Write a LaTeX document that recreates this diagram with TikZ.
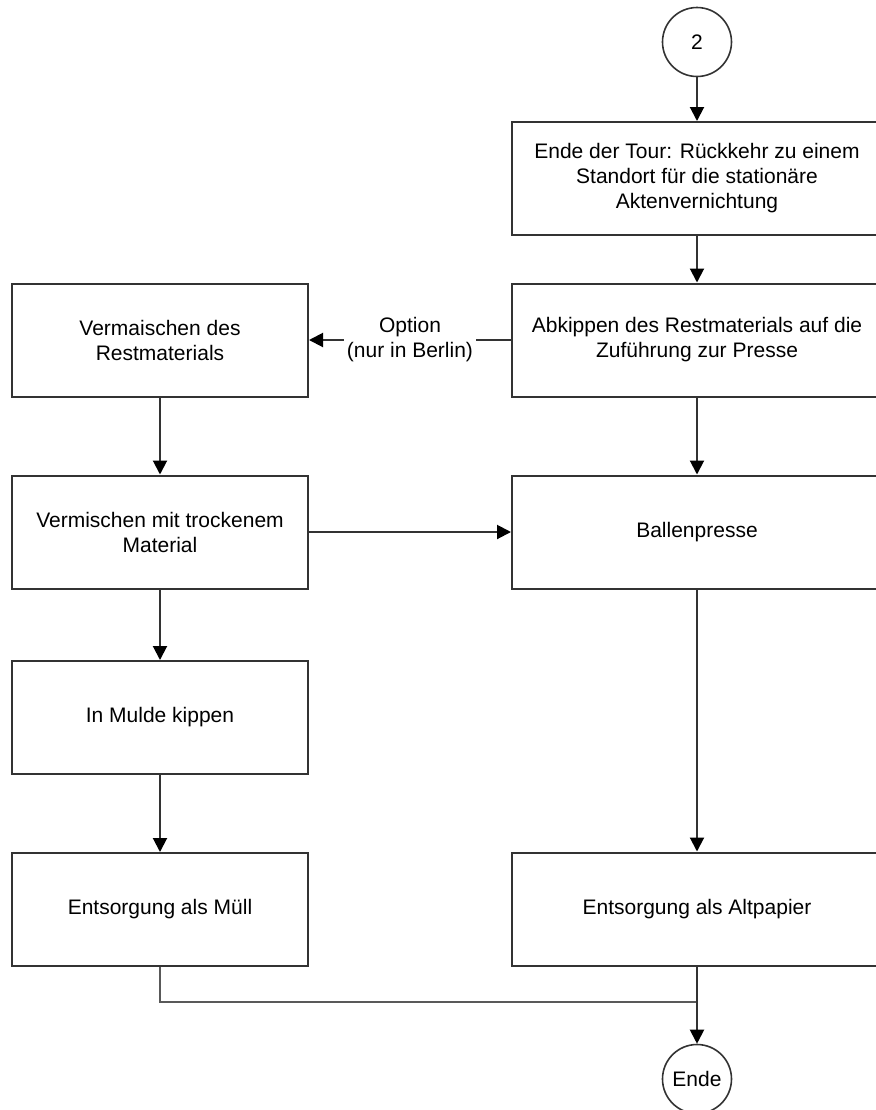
\documentclass[tikz,border=0pt]{standalone}
\usepackage{fontspec}
\setmainfont{Liberation Sans}
\usetikzlibrary{arrows.meta}
\tikzset{
  stepbox/.style={draw=black!80, line width=1pt, fill=white, minimum height=56.5pt, align=center, font=\fontsize{10.5}{12.5}\selectfont},
  narrow/.style={minimum width=148pt},
  wide/.style={minimum width=185pt},
  term/.style={circle, draw=black!80, line width=0.8pt, minimum size=34.5pt, inner sep=0pt, font=\fontsize{10.5}{12.5}\selectfont},
  flow/.style={draw=black!80, line width=1pt, -{Triangle[width=7pt,length=7pt,fill=black,color=black]}},
  link/.style={draw=black!65, line width=1pt},
  optlabel/.style={fill=white, align=center, inner sep=1.5pt, font=\fontsize{10.5}{12.5}\selectfont},
}

\begin{document}
\begin{tikzpicture}[x=0.5pt, y=-0.5pt]
\useasboundingbox (0,0) rectangle (876,1110);
% right column
\node[term] (start) at (697,42) {2};
\node[stepbox, wide] (tour) at (697,178.5) {Ende der Tour: R\"uckkehr zu einem\\Standort f\"ur die station\"are\\Aktenvernichtung};
\node[stepbox, wide] (abkippen) at (697,340) {Abkippen des Restmaterials auf die\\Zuf\"uhrung zur Presse};
\node[stepbox, wide] (ballen) at (697,532) {Ballenpresse};
\node[stepbox, wide] (altpapier) at (697,909) {Entsorgung als Altpapier};
\node[term] (ende) at (697,1079) {Ende};
% left column
\node[stepbox, narrow] (vermaischen) at (160,340) {Vermaischen des\\Restmaterials};
\node[stepbox, narrow] (vermischen) at (160,532) {Vermischen mit trockenem\\Material};
\node[stepbox, narrow] (mulde) at (160,717.5) {In Mulde kippen};
\node[stepbox, narrow] (muell) at (160,909.5) {Entsorgung als M\"ull};
\coordinate (join) at (697,1002);
% connectors
\draw[flow] (start) -- (tour);
\draw[flow] (tour) -- (abkippen);
\draw[flow] (abkippen) -- node[optlabel] {Option\\(nur in Berlin)} (vermaischen);
\draw[flow] (abkippen) -- (ballen);
\draw[flow] (ballen) -- (altpapier);
\draw[flow] (vermaischen) -- (vermischen);
\draw[flow] (vermischen) -- (ballen);
\draw[flow] (vermischen) -- (mulde);
\draw[flow] (mulde) -- (muell);
\draw[link] (muell.south) |- (join);
\draw[flow] (altpapier) -- (ende);
\end{tikzpicture}
\end{document}
